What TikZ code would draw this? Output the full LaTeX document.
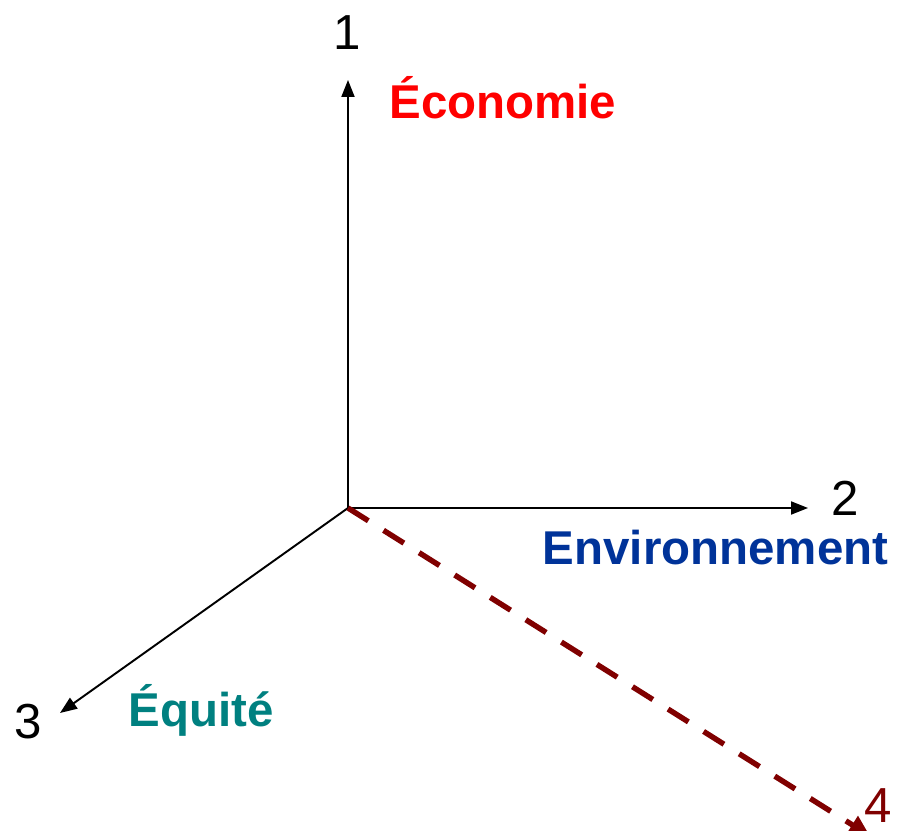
\documentclass[tikz,border=0pt]{standalone}
\usepackage{fontspec}
\setmainfont{Liberation Sans}
\usetikzlibrary{arrows.meta}
\definecolor{ecored}{RGB}{255,0,0}
\definecolor{envblue}{RGB}{0,51,153}
\definecolor{equteal}{RGB}{0,128,128}
\definecolor{darkred}{RGB}{128,0,0}

\begin{document}
\begin{tikzpicture}[
    axis/.style={line width=1.1pt, -{Triangle[length=0.34cm, width=0.26cm]}},
    num/.style={font=\fontsize{28}{32}\selectfont, inner sep=0pt},
    dim/.style={font=\fontsize{27}{31}\selectfont\bfseries, inner sep=0pt}
  ]
    \clip (0,0) rectangle (17.94,16.62);
    % axes
    \coordinate (o) at (6.96,6.46);
    \coordinate (a1) at (6.96,15.02);
    \coordinate (a2) at (16.16,6.46);
    \coordinate (a3) at (1.20,2.36);
    \coordinate (a4) at (17.40,-0.10);
    \draw[axis] (o) -- (a1);
    \draw[axis] (o) -- (a2);
    \draw[axis] (o) -- (a3);
    \draw[line width=3.1pt, darkred, dash pattern=on 0.48cm off 0.36cm,
          -{Triangle[length=0.42cm, width=0.40cm]}] (o) -- (a4);
    % numbers
    \node[num] (n1) at (6.94,15.96) {1};
    \node[num] (n2) at (16.90,6.66) {2};
    \node[num] (n3) at (0.56,2.18) {3};
    \node[num, darkred] (n4) at (17.56,0.50) {4};
    % dimensions
    \node[dim, ecored] (eco) at (10.06,14.66) {Économie};
    \node[dim, envblue] (env) at (14.31,5.66) {Environnement};
    \node[dim, equteal] (equ) at (4.02,2.42) {Équité};
\end{tikzpicture}
\end{document}
